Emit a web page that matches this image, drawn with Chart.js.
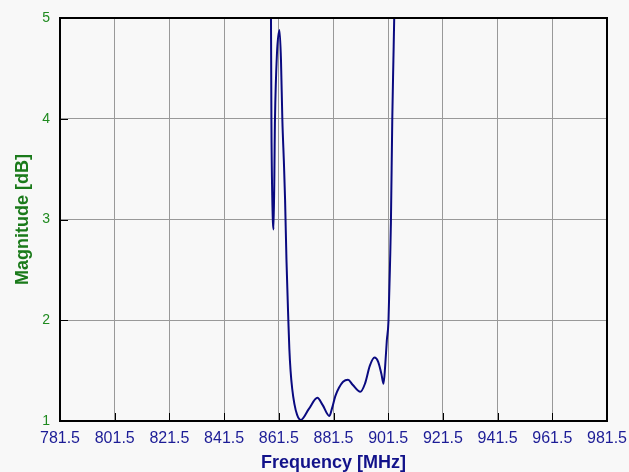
<!DOCTYPE html>
<html>
<head>
<meta charset="utf-8">
<script src="https://cdn.jsdelivr.net/npm/chart.js@4.4.1/dist/chart.umd.min.js"></script>
<style>
  html, body { margin: 0; padding: 0; background: #f8f8f8; }
  #wrap { width: 629px; height: 472px; }
</style>
</head>
<body>
<div id="wrap"><canvas id="chart-filtro" width="629" height="472"></canvas></div>
<script>
// eixo x: frequência (MHz), eixo y: magnitude (dB)
const freqTicks = [781.5, 801.5, 821.5, 841.5, 861.5, 881.5, 901.5, 921.5, 941.5, 961.5, 981.5];
const magTicks = [1, 2, 3, 4, 5];

// curva
const freqs = [858.5, 858.8, 859.1, 859.6, 860.1, 860.8, 861.75, 862.3, 862.8, 863.4, 863.8, 864.3,
  865.0, 865.35, 865.8, 866.4, 867.2, 868.2, 869.5, 872.5, 875.6, 877.5, 880.0, 881.0, 882.2,
  883.5, 885.0, 886.8, 888.5, 891.3, 893.0, 894.8, 896.5, 897.8, 899.0, 899.8, 900.4, 901.0,
  901.6, 902.2, 902.5, 903.0, 903.4, 903.7, 904.0];
const mags = [6.0, 3.97, 3.24, 2.90, 3.99, 4.63, 4.88, 4.58, 3.99, 3.54, 3.19, 2.60,
  1.99, 1.72, 1.50, 1.32, 1.17, 1.06, 1.01, 1.12, 1.23, 1.16, 1.05, 1.13, 1.25,
  1.33, 1.39, 1.41, 1.36, 1.29, 1.37, 1.55, 1.63, 1.59, 1.47, 1.37, 1.55, 1.80,
  1.99, 2.60, 2.98, 4.01, 4.58, 5.0, 5.6];

const pontos = freqs.map((f, i) => ({ x: f, y: mags[i] }));

// moldura preta + marcas internas dos eixos
const moldura = {
  id: 'moldura',
  afterDatasetsDraw(chart) {
    const { ctx, chartArea: a, scales } = chart;
    ctx.save();
    ctx.strokeStyle = '#000';
    ctx.lineWidth = 1;
    ctx.beginPath();
    magTicks.forEach(v => {
      const y = Math.round(scales.y.getPixelForValue(v)) + 0.5;
      ctx.moveTo(a.left, y); ctx.lineTo(a.left + 8, y);
    });
    freqTicks.forEach(v => {
      const x = Math.round(scales.x.getPixelForValue(v)) + 0.5;
      ctx.moveTo(x, a.bottom); ctx.lineTo(x, a.bottom - 8);
    });
    ctx.stroke();
    ctx.lineWidth = 2;
    ctx.strokeRect(a.left, a.top, a.right - a.left, a.bottom - a.top);
    ctx.restore();
  }
};

new Chart(document.getElementById('chart-filtro').getContext('2d'), {
  type: 'line',
  data: {
    datasets: [{
      data: pontos,
      borderColor: '#0a0a80',
      borderWidth: 2,
      pointRadius: 0,
      cubicInterpolationMode: 'monotone',
      fill: false,
      clip: 1
    }]
  },
  options: {
    responsive: false,
    animation: false,
    layout: { padding: { top: 18, right: 22, left: 0, bottom: 0 } },
    plugins: { legend: { display: false }, tooltip: { enabled: false } },
    scales: {
      x: {
        type: 'linear',
        min: 781.5,
        max: 981.5,
        afterBuildTicks: s => { s.ticks = freqTicks.map(v => ({ value: v })); },
        afterFit: s => { s.height = 51; s.paddingLeft = 0; s.paddingRight = 0; },
        grid: { color: '#999', drawTicks: false },
        border: { display: false },
        ticks: {
          color: '#1c1c96',
          padding: 8,
          maxRotation: 0,
          autoSkip: false,
          font: { family: 'Liberation Sans', size: 16 },
          callback: v => v.toFixed(1)
        },
        title: {
          display: true,
          text: 'Frequency [MHz]',
          color: '#12128a',
          padding: { top: 0, bottom: 0 },
          font: { family: 'Liberation Sans', size: 18, weight: 'bold', lineHeight: 1 }
        }
      },
      y: {
        min: 1,
        max: 5,
        afterBuildTicks: s => { s.ticks = magTicks.map(v => ({ value: v })); },
        afterFit: s => { s.width = 60; s.paddingTop = 0; s.paddingBottom = 0; },
        grid: { color: '#999', drawTicks: false },
        border: { display: false },
        ticks: {
          color: '#1f8a1f',
          padding: 10,
          font: { family: 'Liberation Sans', size: 14 }
        },
        title: {
          display: true,
          text: 'Magnitude [dB]',
          color: '#1a7a1a',
          padding: { top: 12, bottom: 0 },
          font: { family: 'Liberation Sans', size: 18, weight: 'bold' }
        }
      }
    }
  },
  plugins: [moldura]
});
</script>
</body>
</html>
